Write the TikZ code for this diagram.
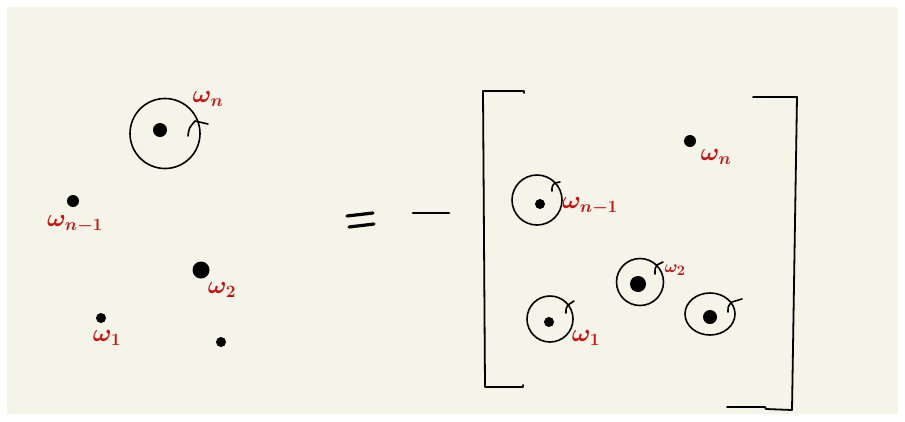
\documentclass[tikz,border=0pt]{standalone}
\usepackage{amsmath}
\usetikzlibrary{calc,shapes.geometric}
\definecolor{cream}{HTML}{F4F4E8}
\definecolor{wred}{HTML}{CC1010}
\begin{document}
\begin{tikzpicture}[x=1pt,y=-1pt,
  dot/.style={circle,fill=black,inner sep=0pt,minimum size=#1},
  ring/.style={draw=black,line width=1.6pt,circle,inner sep=0pt,minimum size=#1},
  hook/.style={line width=1.6pt,line cap=round,line join=round},
  lab/.style={text=wred,inner sep=0pt,font=\fontsize{25}{29}\selectfont\boldmath},
  slab/.style={text=wred,inner sep=0pt,font=\fontsize{19}{22}\selectfont\boldmath},
  bracket/.style={line width=1.8pt,line cap=round,line join=round},
  stroke/.style={line width=3.2pt,line cap=round}]
\fill[white] (0,0) rectangle (905,421);
\fill[cream] (7,7) rectangle (898,414);
\useasboundingbox (0,0) rectangle (905,421);
% ---------- left side ----------
\node[ring=70pt] (Lring) at (165,133.5) {};
\node[dot=14pt] (Ln) at (160,130) {};
\draw[hook] (188,136) .. controls (189,128) .. (195,121) -- (208,124);
\node[lab] (Lnl) at (208,99) {$\omega_n$};
\node[dot=12pt] (Lm) at (73,201) {};
\node[lab] (Lml) at (75,224) {$\omega_{n-1}$};
\node[dot=17pt] (L2) at (201,270) {};
\node[lab] (L2l) at (222,290) {$\omega_2$};
\node[dot=10pt] (L1) at (101,318) {};
\node[lab] (L1l) at (107,338) {$\omega_1$};
\node[dot=10pt] (L0) at (221,342) {};
% ---------- equals minus ----------
\coordinate (e1a) at (347,216); \coordinate (e1b) at (373,213);
\coordinate (e2a) at (349,227); \coordinate (e2b) at (374,224);
\draw[stroke] (e1a) -- (e1b);
\draw[stroke] (e2a) -- (e2b);
\coordinate (ma) at (413,213); \coordinate (mb) at (449,213);
\draw[line width=2.8pt,line cap=round] (ma) -- (mb);
% ---------- brackets ----------
\coordinate (lbt) at (524,91); \coordinate (lbtl) at (483,91);
\coordinate (lbbl) at (485,387); \coordinate (lbb) at (523,387);
\draw[bracket] ($(lbt)+(0,2)$) -- (lbt) -- (lbtl) -- (lbbl) -- (lbb) -- ++(0,-2);
\coordinate (rbt) at (753,97); \coordinate (rbtr) at (797,97);
\coordinate (rbbr) at (792,410); \coordinate (rbb) at (727,407);
\draw[bracket] (rbt) -- (rbtr) -- (rbbr) -- (766,409) -- (765,407) -- (rbb);
% ---------- right side ----------
\node[dot=12pt] (Rn) at (690,141) {};
\node[lab] (Rnl) at (716,157) {$\omega_n$};
\node[ring=50pt] (Rmring) at (537,200) {};
\node[dot=10pt] (Rm) at (540,204) {};
\draw[hook] (552,191) .. controls (552,186) .. (555,183) -- (560,182);
\node[lab] (Rml) at (590,206) {$\omega_{n-1}$};
\node[ring=47pt] (R2ring) at (640,282) {};
\node[dot=16pt] (R2) at (638,284) {};
\draw[hook] (655,274) .. controls (655,268) .. (657,265) -- (663,262);
\node[slab] (R2l) at (675,270) {$\omega_2$};
\node[ring=46pt] (R1ring) at (550,319) {};
\node[dot=10pt] (R1) at (549,322) {};
\draw[hook] (566,313) .. controls (566,308) .. (568,305) -- (574,301);
\node[lab] (R1l) at (586,338) {$\omega_1$};
\node[draw=black,line width=1.6pt,ellipse,inner sep=0pt,minimum width=50pt,minimum height=42pt] (R0ring) at (710,314) {};
\node[dot=14pt] (R0) at (710,317) {};
\draw[hook] (728,312) .. controls (728,306) .. (732,302) -- (742,299);
\end{tikzpicture}
\end{document}
